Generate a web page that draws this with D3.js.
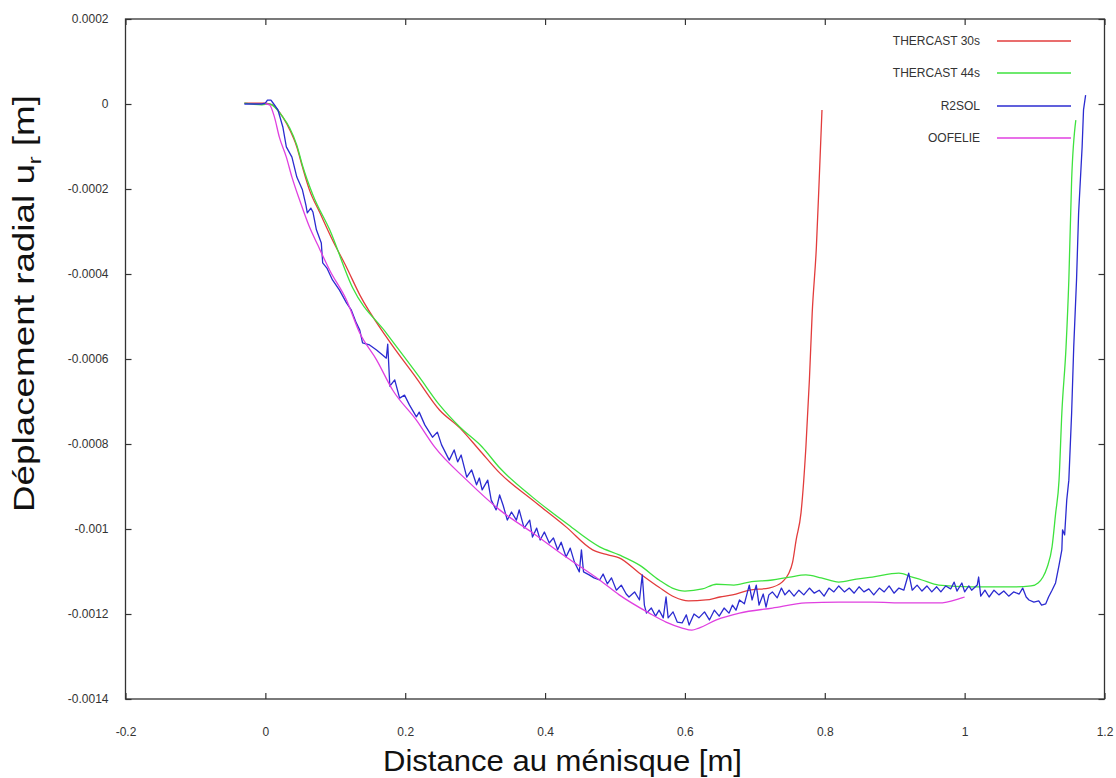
<!DOCTYPE html>
<html>
<head>
<meta charset="utf-8">
<script src="https://cdn.jsdelivr.net/npm/d3@7/dist/d3.min.js"></script>
<style>
  html, body { margin: 0; padding: 0; background: #ffffff; }
  svg { display: block; }
  text { font-family: Arial, "Liberation Sans", sans-serif; }
</style>
</head>
<body>
<svg id="chart" width="1116" height="778"></svg>
<script>
// ---- Data (x: distance [m], y: radial displacement [m]) ----
const xTicks = [-0.2, 0, 0.2, 0.4, 0.6, 0.8, 1, 1.2];
const yTicks = [0.0002, 0, -0.0002, -0.0004, -0.0006, -0.0008, -0.001, -0.0012, -0.0014];
const xTickLabels = ["-0.2", "0", "0.2", "0.4", "0.6", "0.8", "1", "1.2"];
const yTickLabels = ["0.0002", "0", "-0.0002", "-0.0004", "-0.0006", "-0.0008", "-0.001", "-0.0012", "-0.0014"];

const seriesNames = ["THERCAST 30s", "THERCAST 44s", "R2SOL", "OOFELIE"];
const seriesColors = ["#e23c3c", "#3ee23e", "#2b2bd0", "#e040e0"];

const thercast30 = [
  [-0.030,0.000002],[-0.001,0.000002],[0.010,-0.000002],[0.025,-0.000031],[0.035,-0.000061],
  [0.045,-0.000101],[0.053,-0.000148],[0.063,-0.000202],[0.078,-0.000256],[0.096,-0.000320],
  [0.116,-0.000384],[0.135,-0.000449],[0.173,-0.000548],[0.216,-0.000645],[0.249,-0.000720],
  [0.278,-0.000762],[0.306,-0.000814],[0.335,-0.000868],[0.382,-0.000932],[0.430,-0.000995],
  [0.468,-0.001049],[0.490,-0.001061],[0.506,-0.001068],[0.535,-0.001104],[0.563,-0.001137],
  [0.585,-0.001160],[0.605,-0.001169],[0.630,-0.001167],[0.650,-0.001160],[0.668,-0.001155],
  [0.692,-0.001144],[0.720,-0.001139],[0.739,-0.001125],[0.748,-0.001106],[0.754,-0.001078],
  [0.759,-0.001026],[0.766,-0.000962],[0.773,-0.000807],[0.778,-0.000649],[0.782,-0.000492],
  [0.788,-0.000336],[0.792,-0.000179],[0.796,-0.000014]
];

const thercast44 = [
  [-0.030,0.000002],[-0.005,-0.000002],[0.006,0],[0.025,-0.000031],[0.035,-0.000057],
  [0.045,-0.000097],[0.053,-0.000144],[0.068,-0.000214],[0.092,-0.000296],[0.125,-0.000433],
  [0.173,-0.000539],[0.220,-0.000642],[0.249,-0.000708],[0.278,-0.000760],[0.310,-0.000807],
  [0.335,-0.000856],[0.382,-0.000925],[0.430,-0.000986],[0.478,-0.001042],[0.506,-0.001061],
  [0.535,-0.001085],[0.563,-0.001120],[0.582,-0.001139],[0.600,-0.001146],[0.625,-0.001141],
  [0.645,-0.001130],[0.670,-0.001132],[0.692,-0.001125],[0.725,-0.001120],[0.750,-0.001113],
  [0.773,-0.001108],[0.795,-0.001115],[0.820,-0.001125],[0.845,-0.001118],[0.868,-0.001113],
  [0.906,-0.001104],[0.925,-0.001113],[0.939,-0.001120],[0.963,-0.001132],[1.010,-0.001136],
  [1.073,-0.001136],[1.095,-0.001134],[1.105,-0.001127],[1.112,-0.001113],[1.118,-0.001090],
  [1.125,-0.001042],[1.130,-0.000965],[1.135,-0.000885],[1.139,-0.000727],[1.145,-0.000572],
  [1.149,-0.000414],[1.153,-0.000179],[1.159,-0.000038]
];

const r2sol = [
  [-0.030,0],[-0.005,0],[0.000,0.000002],[0.003,0.000009],[0.008,0.000009],[0.012,0],
  [0.018,-0.000014],[0.025,-0.000054],[0.030,-0.000101],[0.038,-0.000125],[0.045,-0.000172],
  [0.053,-0.000202],[0.058,-0.000238],[0.060,-0.000256],[0.065,-0.000245],[0.068,-0.000254],
  [0.073,-0.000296],[0.080,-0.000327],[0.082,-0.000374],[0.088,-0.000386],[0.096,-0.000414],
  [0.106,-0.000438],[0.116,-0.000468],[0.123,-0.000485],[0.130,-0.000515],[0.135,-0.000532],
  [0.139,-0.000562],[0.149,-0.000567],[0.159,-0.000579],[0.168,-0.000591],[0.173,-0.000598],
  [0.175,-0.000565],[0.178,-0.000664],[0.185,-0.000649],[0.192,-0.000692],[0.199,-0.000685],
  [0.206,-0.000708],[0.216,-0.000736],[0.220,-0.000725],[0.228,-0.000755],[0.239,-0.000784],
  [0.246,-0.000772],[0.252,-0.000802],[0.263,-0.000838],[0.270,-0.000814],[0.275,-0.000842],
  [0.280,-0.000826],[0.288,-0.000878],[0.295,-0.000861],[0.302,-0.000896],[0.306,-0.000880],
  [0.310,-0.000908],[0.318,-0.000885],[0.323,-0.000932],[0.330,-0.000955],[0.335,-0.000920],
  [0.340,-0.000944],[0.346,-0.000979],[0.352,-0.000960],[0.359,-0.000979],[0.363,-0.000955],
  [0.370,-0.000998],[0.378,-0.000979],[0.382,-0.001019],[0.388,-0.000998],[0.393,-0.001026],
  [0.399,-0.001007],[0.406,-0.001033],[0.412,-0.001021],[0.418,-0.001049],[0.423,-0.001031],
  [0.430,-0.001066],[0.436,-0.001045],[0.442,-0.001078],[0.449,-0.001101],[0.452,-0.001049],
  [0.455,-0.001101],[0.463,-0.001108],[0.470,-0.001115],[0.478,-0.001120],[0.483,-0.001106],
  [0.489,-0.001129],[0.495,-0.001115],[0.502,-0.001144],[0.509,-0.001132],[0.516,-0.001153],
  [0.520,-0.001160],[0.528,-0.001148],[0.535,-0.001167],[0.539,-0.001108],[0.542,-0.001179],
  [0.545,-0.001198],[0.552,-0.001186],[0.558,-0.001205],[0.563,-0.001191],[0.569,-0.001209],
  [0.573,-0.001160],[0.576,-0.001209],[0.583,-0.001195],[0.589,-0.001219],[0.596,-0.001221],
  [0.602,-0.001202],[0.606,-0.001226],[0.613,-0.001200],[0.620,-0.001209],[0.628,-0.001195],
  [0.635,-0.001214],[0.642,-0.001191],[0.649,-0.001205],[0.656,-0.001186],[0.663,-0.001198],
  [0.668,-0.001179],[0.673,-0.001191],[0.678,-0.001167],[0.685,-0.001176],[0.692,-0.001132],
  [0.696,-0.001167],[0.702,-0.001132],[0.706,-0.001179],[0.712,-0.001153],[0.716,-0.001184],
  [0.720,-0.001155],[0.725,-0.001148],[0.732,-0.001162],[0.738,-0.001139],[0.743,-0.001155],
  [0.749,-0.001144],[0.756,-0.001158],[0.763,-0.001144],[0.770,-0.001155],[0.778,-0.001139],
  [0.785,-0.001151],[0.792,-0.001144],[0.799,-0.001158],[0.806,-0.001139],[0.813,-0.001148],
  [0.820,-0.001134],[0.828,-0.001148],[0.835,-0.001139],[0.842,-0.001151],[0.849,-0.001136],
  [0.856,-0.001148],[0.863,-0.001141],[0.870,-0.001155],[0.878,-0.001139],[0.885,-0.001148],
  [0.892,-0.001134],[0.899,-0.001151],[0.906,-0.001139],[0.913,-0.001144],[0.920,-0.001104],
  [0.925,-0.001144],[0.932,-0.001132],[0.939,-0.001146],[0.946,-0.001134],[0.953,-0.001148],
  [0.960,-0.001136],[0.966,-0.001148],[0.973,-0.001134],[0.980,-0.001141],[0.985,-0.001125],
  [0.989,-0.001146],[0.996,-0.001127],[1.000,-0.001148],[1.006,-0.001134],[1.010,-0.001144],
  [1.018,-0.001132],[1.020,-0.001113],[1.023,-0.001158],[1.029,-0.001144],[1.035,-0.001160],
  [1.042,-0.001144],[1.049,-0.001155],[1.056,-0.001146],[1.063,-0.001158],[1.070,-0.001148],
  [1.078,-0.001153],[1.083,-0.001139],[1.088,-0.001160],[1.092,-0.001167],[1.099,-0.001172],
  [1.106,-0.001169],[1.110,-0.001179],[1.116,-0.001176],[1.120,-0.001160],[1.125,-0.001144],
  [1.130,-0.001127],[1.135,-0.001085],[1.139,-0.001049],[1.140,-0.001002],[1.143,-0.001014],
  [1.146,-0.000932],[1.149,-0.000885],[1.153,-0.000727],[1.156,-0.000572],[1.160,-0.000414],
  [1.163,-0.000256],[1.168,-0.000101],[1.170,-0.000014],[1.173,0.000021]
];

const oofelie = [
  [0.000,0],[0.006,-0.000002],[0.013,-0.000031],[0.020,-0.000078],[0.030,-0.000125],
  [0.038,-0.000172],[0.049,-0.000226],[0.063,-0.000289],[0.075,-0.000332],[0.092,-0.000391],
  [0.116,-0.000461],[0.135,-0.000539],[0.159,-0.000602],[0.182,-0.000673],[0.216,-0.000744],
  [0.242,-0.000807],[0.288,-0.000885],[0.335,-0.000955],[0.382,-0.001009],[0.430,-0.001066],
  [0.478,-0.001120],[0.506,-0.001155],[0.549,-0.001198],[0.573,-0.001219],[0.596,-0.001233],
  [0.610,-0.001238],[0.620,-0.001233],[0.645,-0.001214],[0.678,-0.001198],[0.725,-0.001186],
  [0.773,-0.001174],[0.820,-0.001172],[0.868,-0.001172],[0.916,-0.001174],[0.963,-0.001174],
  [0.996,-0.001162],[1.000,-0.001160]
];

const seriesData = [thercast30, thercast44, r2sol, oofelie];
const seriesSmooth = [true, true, false, true];

// ---- Layout ----
const svg = d3.select("#chart");
const L = 125.5, R = 1104.5, T = 19, B = 699;

const x = d3.scaleLinear().domain([-0.2, 1.2]).range([L, R]);
const y = d3.scaleLinear().domain([-0.0014, 0.0002]).range([B, T]);

svg.append("rect").attr("x", 0).attr("y", 0).attr("width", 1116).attr("height", 778).attr("fill", "#ffffff");

const axisColor = "#333333";
const labelColor = "#333333";

const gB = svg.append("g").attr("transform", `translate(0,${B})`)
  .call(d3.axisBottom(x).tickValues(xTicks).tickFormat((d, i) => xTickLabels[i])
        .tickSizeInner(-6).tickSizeOuter(0).tickPadding(28));
const gL = svg.append("g").attr("transform", `translate(${L},0)`)
  .call(d3.axisLeft(y).tickValues(yTicks).tickFormat((d, i) => yTickLabels[i])
        .tickSizeInner(-6).tickSizeOuter(0).tickPadding(17));
const gT = svg.append("g").attr("transform", `translate(0,${T})`)
  .call(d3.axisTop(x).tickValues(xTicks).tickFormat("").tickSizeInner(-6).tickSizeOuter(0));
const gR = svg.append("g").attr("transform", `translate(${R},0)`)
  .call(d3.axisRight(y).tickValues(yTicks).tickFormat("").tickSizeInner(-6).tickSizeOuter(0));

[gB, gL, gT, gR].forEach(g => {
  g.select(".domain").remove();
  g.selectAll(".tick line").attr("stroke", axisColor).attr("stroke-width", 1.2);
  g.selectAll(".tick text").attr("fill", labelColor).style("font-size", "12px")
    .style("font-family", "Arial, 'Liberation Sans', sans-serif");
});

svg.append("rect").attr("x", L).attr("y", T).attr("width", R - L).attr("height", B - T)
  .attr("fill", "none").attr("stroke", axisColor).attr("stroke-width", 1.3);

seriesData.forEach((data, i) => {
  const line = d3.line().x(d => x(d[0])).y(d => y(d[1]))
    .curve(seriesSmooth[i] ? d3.curveMonotoneX : d3.curveLinear);
  svg.append("path").datum(data).attr("d", line)
    .attr("fill", "none").attr("stroke", seriesColors[i]).attr("stroke-width", 1.3)
    .attr("stroke-linejoin", "round");
});

const legendY = [41, 73, 106, 138];
seriesNames.forEach((name, i) => {
  svg.append("text").attr("x", 980).attr("y", legendY[i]).attr("dy", "0.35em")
    .attr("text-anchor", "end").attr("fill", labelColor).style("font-size", "12px").text(name);
  svg.append("line").attr("x1", 997).attr("x2", 1071).attr("y1", legendY[i]).attr("y2", legendY[i])
    .attr("stroke", seriesColors[i]).attr("stroke-width", 1.3);
});

svg.append("text").attr("x", 562.5).attr("y", 771).attr("text-anchor", "middle")
  .attr("fill", "#111").style("font-size", "30px")
  .attr("textLength", 359).attr("lengthAdjust", "spacingAndGlyphs")
  .text("Distance au ménisque [m]");

const yt = svg.append("text").attr("transform", "translate(34,303.5) rotate(-90)")
  .attr("text-anchor", "middle").attr("fill", "#111").style("font-size", "30px")
  .attr("textLength", 417).attr("lengthAdjust", "spacingAndGlyphs");
yt.append("tspan").text("Déplacement radial u");
yt.append("tspan").attr("dy", 7).style("font-size", "19px").text("r");
yt.append("tspan").attr("dy", -7).text(" [m]");
</script>
</body>
</html>
